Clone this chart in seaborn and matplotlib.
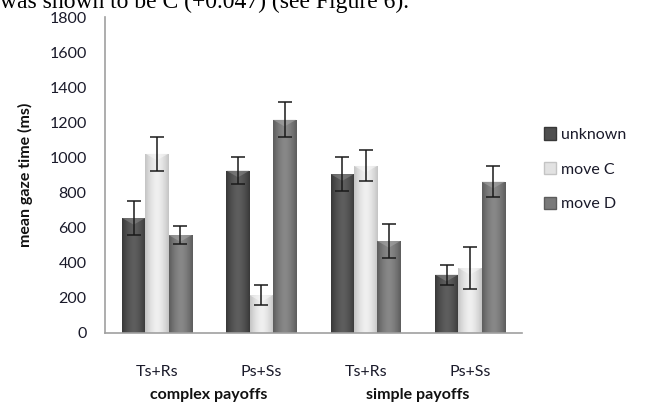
import numpy as np
import pandas as pd
import matplotlib
matplotlib.use("Agg")
import matplotlib.pyplot as plt
from matplotlib.patches import Polygon
import seaborn as sns

# Mean gaze time per payoff condition and response type
conditions = ["complex Ts+Rs", "complex Ps+Ss", "simple Ts+Rs", "simple Ps+Ss"]
tick_labels = ["Ts+Rs", "Ps+Ss", "Ts+Rs", "Ps+Ss"]
group_labels = ["complex payoffs", "simple payoffs"]
series = ["unknown", "move C", "move D"]

unknown = [655, 925, 905, 332]
move_c = [1022, 215, 952, 370]
move_d = [558, 1215, 524, 862]

unknown_err = [95, 78, 98, 57]
move_c_err = [97, 57, 88, 118]
move_d_err = [52, 100, 97, 90]

palette = {"unknown": "#4f4f4f", "move C": "#e2e2e2", "move D": "#7a7a7a"}
edge_dark = {"unknown": "#383838", "move C": "#c4c4c4", "move D": "#5c5c5c"}
center_light = {"unknown": "#5e5e5e", "move C": "#f0f0f0", "move D": "#888888"}
cap_light = {"unknown": "#8a8a8a", "move C": "#f8f8f8", "move D": "#a8a8a8"}

values = {"unknown": unknown, "move C": move_c, "move D": move_d}
errors = {"unknown": unknown_err, "move C": move_c_err, "move D": move_d_err}

df = pd.DataFrame(
    [(c, s, values[s][i]) for s in series for i, c in enumerate(conditions)],
    columns=["condition", "response", "gaze"],
)

sns.set_theme(style="white")
plt.rcParams["font.family"] = ["Lato", "DejaVu Sans"]

fig = plt.figure(figsize=(6.55, 4.08), dpi=100)
ax = fig.add_axes([0.160, 0.184, 0.637, 0.774])

sns.barplot(
    data=df, x="condition", y="gaze", hue="response",
    order=conditions, hue_order=series, palette=palette,
    width=0.67, gap=0, errorbar=None, ax=ax, linewidth=0, legend=False,
)


def shade(c_edge, c_mid):
    a = np.array(matplotlib.colors.to_rgb(c_edge))
    b = np.array(matplotlib.colors.to_rgb(c_mid))
    t = np.linspace(0, 1, 64)
    w = 1 - np.abs(2 * t - 1) ** 1.6
    return (a[None, :] * (1 - w[:, None]) + b[None, :] * w[:, None])[None, :, :]


# cylinder-like shading, bevelled tops and error bars on every bar
for s, container in zip(series, ax.containers):
    img = shade(edge_dark[s], center_light[s])
    xs, hs = [], []
    for patch in container:
        x0, w, h = patch.get_x(), patch.get_width(), patch.get_height()
        im = ax.imshow(img, extent=(x0, x0 + w, 0, h), aspect="auto",
                       zorder=patch.get_zorder() + 0.1, interpolation="bilinear")
        im.set_clip_path(patch)
        cap = Polygon([(x0, h), (x0 + w, h), (x0 + w * 0.5, h - 38)],
                      closed=True, facecolor=cap_light[s], edgecolor="none",
                      alpha=0.55, zorder=patch.get_zorder() + 0.2)
        ax.add_patch(cap)
        xs.append(x0 + w / 2)
        hs.append(h)
    ax.errorbar(xs, hs, yerr=errors[s], fmt="none", ecolor="#1a1a1a",
                elinewidth=1.1, capsize=5, capthick=1.1, zorder=5)

ax.set_xlim(-0.5, len(conditions) - 0.5)
ax.set_ylim(0, 1800)
ax.set_yticks(np.arange(0, 1801, 200))
ax.set_yticklabels([str(v) for v in range(0, 1801, 200)], fontsize=11.5,
                   color="#1a1a2a")
ax.set_ylabel("mean gaze time (ms)", fontsize=11.5, fontweight="bold",
              color="#111111", labelpad=12)
ax.set_xlabel("")

# category separators instead of centred ticks
ax.set_xticks(np.arange(-0.5, len(conditions), 1.0))
ax.set_xticklabels([])
ax.tick_params(axis="x", which="major", length=8, width=1, color="#a0a0a0",
               direction="out")
ax.set_xticks(np.arange(len(conditions)), minor=True)
ax.set_xticklabels(tick_labels, minor=True, fontsize=11.5, color="#1a1a2a")
ax.tick_params(axis="x", which="minor", length=0, pad=23)
ax.tick_params(axis="y", length=5, width=1, color="#a0a0a0", direction="out",
               pad=8)

for side in ["top", "right"]:
    ax.spines[side].set_visible(False)
for side in ["left", "bottom"]:
    ax.spines[side].set_color("#a0a0a0")
    ax.spines[side].set_linewidth(1.2)

# outer group labels under the condition ticks
for k, g in enumerate(group_labels):
    xc = 2 * k + 0.5
    ax.text(xc, -0.198, g, transform=ax.get_xaxis_transform(), ha="center",
            va="center", fontsize=11.5, fontweight="bold", color="#111111")

# legend on the right
handles = [plt.Rectangle((0, 0), 1, 1, facecolor=palette[s],
                         edgecolor=edge_dark[s]) for s in series]
leg = fig.legend(handles, series, loc="center left",
                 bbox_to_anchor=(0.808, 0.585), frameon=False, fontsize=11.5,
                 handlelength=0.8, handleheight=0.8, handletextpad=0.3,
                 labelspacing=1.25)
for t in leg.get_texts():
    t.set_color("#1a1a2a")

# running text line above the figure, cut off at the top edge
fig.text(0.0, 0.981, "was shown to be C (+0.047) (see Figure 6).",
         family=["Liberation Serif", "DejaVu Serif"], fontsize=17,
         ha="left", va="baseline", color="#000000")

fig.savefig("out.png", dpi=100)
